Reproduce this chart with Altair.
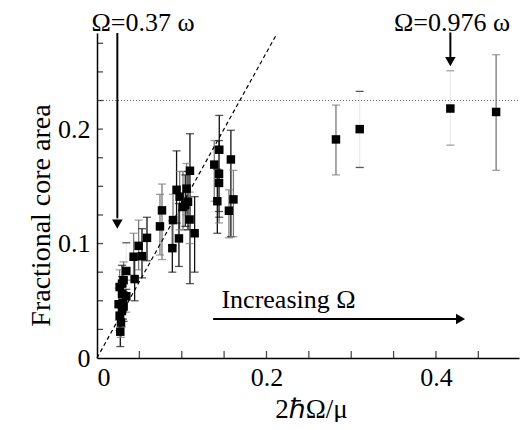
import altair as alt
import pandas as pd

# ---- data ----
pt_x = [0.0275, 0.0283, 0.0267, 0.0295, 0.0314, 0.0255, 0.0307, 0.0346, 0.0295, 0.0267,
        0.0295, 0.0314, 0.0346,
        0.0444, 0.0432, 0.0531, 0.0491, 0.0590,
        0.0743, 0.0767, 0.0889, 0.0897, 0.0939, 0.0975, 0.0967, 0.1015, 0.1042, 0.1057,
        0.1074, 0.1097, 0.1093, 0.1152,
        0.1443, 0.1384, 0.1440, 0.1440, 0.1420, 0.1580, 0.1610, 0.1557,
        0.282, 0.310, 0.417, 0.471]
pt_y = [0.023, 0.031, 0.037, 0.041, 0.045, 0.047, 0.048, 0.054, 0.056, 0.062,
        0.065, 0.068, 0.076,
        0.069, 0.0885, 0.089, 0.098, 0.105,
        0.115, 0.129, 0.096, 0.1205, 0.147, 0.141, 0.1045, 0.132, 0.1336, 0.148,
        0.1365, 0.1636, 0.121, 0.109,
        0.182, 0.169, 0.161, 0.153, 0.137, 0.1735, 0.1386, 0.1287,
        0.191, 0.200, 0.218, 0.215]
err_lo = [0.010, 0.018, 0.024, 0.027, 0.032, 0.033, 0.034, 0.040, 0.042, 0.047,
          0.050, 0.052, 0.060,
          0.050, 0.068, 0.070, 0.077, 0.085,
          0.090, 0.086, 0.075, 0.098, 0.118, 0.112, 0.080, 0.112, 0.115, 0.125,
          0.112, 0.065, 0.100, 0.075,
          0.123, 0.137, 0.128, 0.118, 0.109, 0.106, 0.106, 0.105,
          0.160, 0.1665, 0.186, 0.164]
err_hi = [0.036, 0.044, 0.050, 0.055, 0.058, 0.061, 0.063, 0.068, 0.071, 0.077,
          0.081, 0.084, 0.1007,
          0.088, 0.109, 0.113, 0.1205, 0.123,
          0.143, 0.152, 0.120, 0.143, 0.181, 0.163, 0.135, 0.163, 0.160, 0.170,
          0.163, 0.196, 0.145, 0.141,
          0.212, 0.190, 0.190, 0.180, 0.165, 0.199, 0.164, 0.147,
          0.221, 0.233, 0.251, 0.265]
bar_tone = ["black", "gray", "black", "gray", "black", "gray", "black", "gray", "black", "gray",
            "black", "gray", "faint",
            "black", "gray", "black", "gray", "black",
            "gray", "gray", "black", "gray", "black", "gray", "black", "gray", "black", "gray",
            "black", "black", "gray", "black",
            "black", "gray", "black", "gray", "black", "black", "gray", "gray",
            "gray", "faint", "faint", "gray"]
cap_tone = ["black", "gray", "black", "gray", "black", "gray", "black", "gray", "black", "gray",
            "black", "gray", "black",
            "black", "gray", "black", "gray", "black",
            "gray", "gray", "black", "gray", "black", "gray", "black", "gray", "black", "gray",
            "black", "black", "gray", "black",
            "black", "gray", "black", "gray", "black", "black", "gray", "gray",
            "gray", "black", "gray", "gray"]

x_tick_vals = [0.05, 0.1, 0.15, 0.2, 0.25, 0.3, 0.35, 0.4, 0.45]
y_tick_vals = [0.025, 0.05, 0.075, 0.1, 0.125, 0.15, 0.175, 0.2, 0.225, 0.25, 0.275]
x_label_vals = [0, 0.2, 0.4]
y_label_vals = [0, 0.1, 0.2]

fit_x = [0.0, 0.212]
fit_y = [0.0, 0.283]
plateau_y = 0.225
plateau_x = [0.0, 0.498]

X_DOM = [0, 0.498]
Y_DOM = [0, 0.284]
W, H = 422, 325
FONT = "Liberation Serif"

df = pd.DataFrame({"x": pt_x, "y": pt_y, "lo": err_lo, "hi": err_hi,
                   "bt": bar_tone, "ct": cap_tone})
caps = pd.concat([
    pd.DataFrame({"x": pt_x, "yv": err_lo, "ct": cap_tone}),
    pd.DataFrame({"x": pt_x, "yv": err_hi, "ct": cap_tone}),
])

xs = alt.Scale(domain=X_DOM, nice=False, zero=False)
ys = alt.Scale(domain=Y_DOM, nice=False, zero=False)
tone = alt.Scale(domain=["black", "gray", "faint"], range=["#111111", "#7a7a7a", "#ececec"])

x_axis = alt.Axis(values=x_label_vals, format="~g", title="2ℏΩ/μ", ticks=False,
                  labelPadding=6, titleX=214, titleY=59, titleAlign="center",
                  titleBaseline="alphabetic", titleFontSize=27, titleFontWeight="normal")
y_axis = alt.Axis(values=y_label_vals, format="~g", title="Fractional core area", ticks=False,
                  labelPadding=7, titleX=-56, titleY=182, titleAngle=270,
                  titleAlign="center", titleBaseline="middle", titleFontSize=28,
                  titleFontWeight="normal")


def X(field):
    return alt.X(field, type="quantitative", scale=xs, axis=x_axis)


def Y(field):
    return alt.Y(field, type="quantitative", scale=ys, axis=y_axis)


bars = alt.Chart(df).mark_rule(strokeWidth=1.3).encode(
    x=X("x"), y=Y("lo"), y2="hi:Q",
    color=alt.Color("bt:N", scale=tone, legend=None),
)

cap_layer = alt.Chart(caps).mark_tick(orient="horizontal", size=8, thickness=1.3).encode(
    x=X("x"), y=Y("yv"),
    color=alt.Color("ct:N", scale=tone, legend=None),
)

points = alt.Chart(df).mark_square(size=72, color="black", opacity=1, filled=True).encode(
    x=X("x"), y=Y("y"),
)

fit = alt.Chart(pd.DataFrame({"x": fit_x, "y": fit_y})).mark_line(
    color="black", strokeWidth=1.2, strokeDash=[4, 3]).encode(x=X("x"), y=Y("y"))

plateau = alt.Chart(pd.DataFrame({"x": plateau_x, "y": [plateau_y, plateau_y]})).mark_line(
    color="#666666", strokeWidth=1, strokeDash=[1, 2]).encode(x=X("x"), y=Y("y"))

xt = alt.Chart(pd.DataFrame({"t": x_tick_vals})).mark_tick(
    orient="vertical", size=7, thickness=1.3, color="black", yOffset=-3.5).encode(
    x=X("t"), y=alt.value(H))
yt = alt.Chart(pd.DataFrame({"t": y_tick_vals})).mark_tick(
    orient="horizontal", size=6, thickness=1.3, color="black", xOffset=3).encode(
    y=Y("t"), x=alt.value(0))

# arrows
arr_v = pd.DataFrame({"x": [0.024, 0.417], "y1": [0.284, 0.2845], "y2": [0.122, 0.262]})
arrows_v = alt.Chart(arr_v).mark_rule(color="black", strokeWidth=2).encode(
    x=X("x"), y=Y("y1"), y2="y2:Q")
heads_v = alt.Chart(pd.DataFrame({"x": [0.024, 0.417], "y": [0.117, 0.259]})).mark_point(
    shape="triangle-down", size=110, filled=True, color="black", opacity=1).encode(
    x=X("x"), y=Y("y"))
arr_h = pd.DataFrame({"x1": [0.137], "x2": [0.424], "y": [0.034]})
arrow_h = alt.Chart(arr_h).mark_rule(color="black", strokeWidth=2).encode(
    x=X("x1"), x2="x2:Q", y=Y("y"))
head_h = alt.Chart(pd.DataFrame({"x": [0.429], "y": [0.034]})).mark_point(
    shape="triangle-right", size=110, filled=True, color="black", opacity=1).encode(
    x=X("x"), y=Y("y"))

# labels
lab1 = alt.Chart(pd.DataFrame({"x": [-0.0066], "y": [0.2855], "t": ["Ω=0.37 ω"]})).mark_text(
    font=FONT, fontSize=26, align="left", baseline="alphabetic", color="black").encode(
    x=X("x"), y=Y("y"), text="t:N")
lab2 = alt.Chart(pd.DataFrame({"x": [0.419], "y": [0.2855], "t": ["Ω=0.976 ω"]})).mark_text(
    font=FONT, fontSize=26, align="center", baseline="alphabetic", color="black").encode(
    x=X("x"), y=Y("y"), text="t:N")
lab3 = alt.Chart(pd.DataFrame({"x": [0.226], "y": [0.051], "t": ["Increasing Ω"]})).mark_text(
    font=FONT, fontSize=26, align="center", baseline="middle", color="black").encode(
    x=X("x"), y=Y("y"), text="t:N")

chart = alt.layer(
    bars, plateau, fit, cap_layer, points, xt, yt, arrows_v, heads_v, arrow_h, head_h,
    lab1, lab2, lab3,
).properties(
    width=W, height=H,
    autosize=alt.AutoSizeParams(type="none"),
    padding={"left": 89, "top": 25, "right": 1, "bottom": 64},
    background="white",
).configure_view(stroke=None).configure_axis(
    labelFont=FONT, titleFont=FONT, labelFontSize=26, labelColor="black",
    titleColor="black", domainColor="black", domainWidth=1.5, grid=False,
)

chart.save("out.html", embed_options={"renderer": "svg", "actions": False})
